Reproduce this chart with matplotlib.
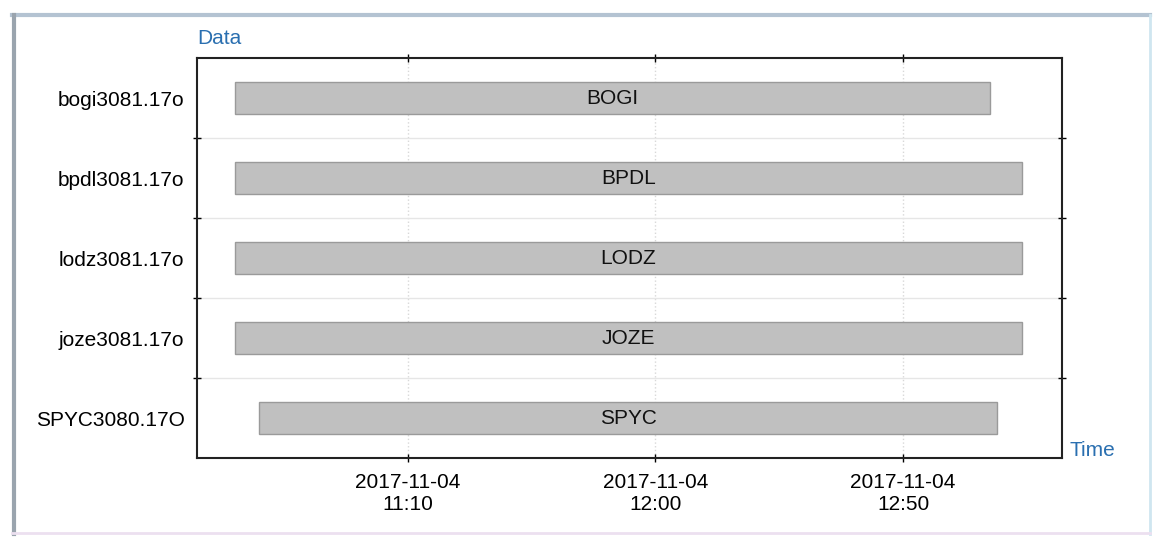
import matplotlib
matplotlib.use("Agg")
import matplotlib.pyplot as plt
import matplotlib.dates as mdates
from matplotlib.lines import Line2D
import pandas as pd

# observation files, top to bottom
files = ['bogi3081.17o', 'bpdl3081.17o', 'lodz3081.17o', 'joze3081.17o', 'SPYC3080.17O']
stations = ['BOGI', 'BPDL', 'LODZ', 'JOZE', 'SPYC']
start = ['10:35:00', '10:35:00', '10:35:00', '10:35:00', '10:40:00']
end = ['13:07:30', '13:14:00', '13:14:00', '13:14:00', '13:09:00']
ticks = ['11:10', '12:00', '12:50']
day = '2017-11-04'

plt.rcParams['font.family'] = ['Liberation Sans', 'DejaVu Sans']
FS = 15

fig = plt.figure(figsize=(11.55, 5.38), dpi=100)
ax = fig.add_axes([197 / 1155, 1 - 458 / 538, 865 / 1155, 400 / 538])

t0 = pd.to_datetime([day + ' ' + s for s in start])
t1 = pd.to_datetime([day + ' ' + s for s in end])
x0 = mdates.date2num(t0)
x1 = mdates.date2num(t1)
ypos = list(range(len(files)))

ax.barh(ypos, x1 - x0, left=x0, height=0.39, color='#c0c0c0',
        edgecolor='#9a9a9a', linewidth=1, zorder=3)
for y, a, b, name in zip(ypos, x0, x1, stations):
    ax.text((a + b) / 2, y, name, ha='center', va='center', fontsize=FS,
            color='#111111', zorder=4)

ax.set_xlim(mdates.date2num(pd.Timestamp(day + ' 10:27:24')),
            mdates.date2num(pd.Timestamp(day + ' 13:22:06')))
ax.set_ylim(len(files) - 0.5, -0.5)

tick_pos = mdates.date2num(pd.to_datetime([day + ' ' + t for t in ticks]))
ax.set_xticks(tick_pos)
ax.set_xticklabels([day + '\n' + t for t in ticks], fontsize=FS, linespacing=1.2)

# separators between rows carry the ticks, labels sit in the middle
ax.set_yticks([y + 0.5 for y in ypos[:-1]])
ax.set_yticklabels([])
ax.set_yticks(ypos, minor=True)
ax.set_yticklabels(files, minor=True, fontsize=FS)
ax.tick_params(axis='y', which='minor', length=0, pad=9)
ax.tick_params(axis='y', which='major', direction='inout', length=6, width=1,
               left=True, right=True)
ax.tick_params(axis='x', direction='inout', length=6, width=1, top=True,
               bottom=True, pad=8)

ax.grid(axis='x', color='#d8d8d8', linestyle=':', linewidth=1, zorder=0)
ax.grid(axis='y', which='major', color='#e6e6e6', linestyle='-', linewidth=1, zorder=0)
for s in ax.spines.values():
    s.set_color('#222222')
    s.set_linewidth(1.5)

fig.text(197 / 1155, 1 - 38 / 538, 'Data', color='#2a6fb0', fontsize=FS,
         ha='left', va='center')
fig.text(1070 / 1155, 1 - 451 / 538, 'Time', color='#2a6fb0', fontsize=FS,
         ha='left', va='center')

# window frame
W, H = 1155, 538
fig.add_artist(Line2D([12 / W, 1150 / W], [1 - 15 / H, 1 - 15 / H], color='#b4c3d2',
                      linewidth=3, transform=fig.transFigure))
fig.add_artist(Line2D([14 / W, 14 / W], [1 - 15 / H, 1 - 534 / H], color='#9aa4ae',
                      linewidth=3, transform=fig.transFigure))
fig.add_artist(Line2D([1150 / W, 1150 / W], [1 - 15 / H, 1 - 534 / H], color='#cfe6f0',
                      linewidth=2, transform=fig.transFigure))
fig.add_artist(Line2D([12 / W, 1150 / W], [1 - 533 / H, 1 - 533 / H], color='#ece0f0',
                      linewidth=2, transform=fig.transFigure))

fig.savefig('out.png', dpi=100)
